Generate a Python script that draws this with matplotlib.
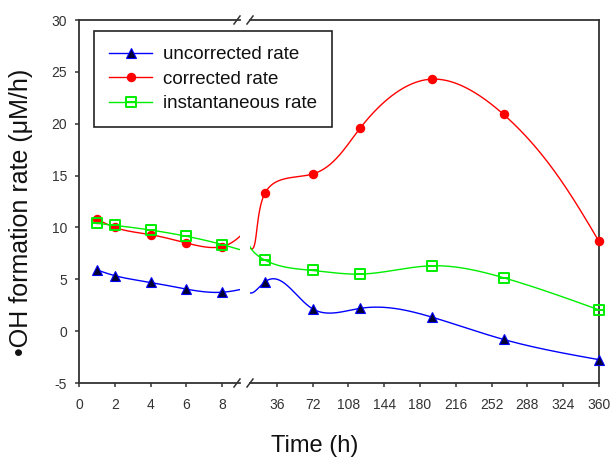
import numpy as np
import matplotlib
matplotlib.use("Agg")
import matplotlib.pyplot as plt
from matplotlib.path import Path
from matplotlib.lines import Line2D

plt.rcParams['font.family'] = ['Liberation Sans', 'DejaVu Sans']
plt.rcParams['axes.unicode_minus'] = False

# data (time in h, rate in uM/h)
time_h = np.array([1, 2, 4, 6, 8, 24, 72, 120, 192, 264, 360], dtype=float)
uncorrected = np.array([5.9, 5.35, 4.7, 4.05, 3.75, 4.75, 2.15, 2.2, 1.35, -0.8, -2.75])
corrected = np.array([10.8, 10.0, 9.3, 8.5, 8.15, 13.3, 15.15, 19.6, 24.3, 20.9, 8.65])
instantaneous = np.array([10.4, 10.2, 9.75, 9.15, 8.35, 6.85, 5.85, 5.5, 6.3, 5.15, 2.05])

left_ticks = [0, 2, 4, 6, 8]
right_ticks = list(range(36, 361, 36))
y_ticks = list(range(-5, 31, 5))

W, H = 614, 461
L0, L1 = 79, 240      # left panel, pixels
R0, R1 = 250, 599     # right panel, pixels
YB, YT = 383, 20      # bottom / top of the plot, pixels
BRK = 9               # hours where the axis is broken
TMAX = 360
YMIN, YMAX = -5, 30
kY = (YB - YT) / (YMAX - YMIN)
kL = (L1 - L0) / BRK
kR = (R1 - R0) / (TMAX - BRK)


def natural_spline(x, y, xs):
    n = len(x)
    h = np.diff(x)
    A = np.zeros((n, n))
    b = np.zeros(n)
    A[0, 0] = 1
    A[-1, -1] = 1
    for i in range(1, n - 1):
        A[i, i - 1] = h[i - 1]
        A[i, i] = 2 * (h[i - 1] + h[i])
        A[i, i + 1] = h[i]
        b[i] = 3 * ((y[i + 1] - y[i]) / h[i] - (y[i] - y[i - 1]) / h[i - 1])
    c = np.linalg.solve(A, b)
    bb = (y[1:] - y[:-1]) / h - h * (2 * c[:-1] + c[1:]) / 3
    d = (c[1:] - c[:-1]) / (3 * h)
    idx = np.clip(np.searchsorted(x, xs) - 1, 0, n - 2)
    dx = xs - x[idx]
    return y[idx] + bb[idx] * dx + c[idx] * dx ** 2 + d[idx] * dx ** 3


def smooth_curve(t, v, k_in, k_out, n=6000):
    # parametric spline through the points, x scaled k_in before the break
    # and k_out after it
    xp = np.where(t <= BRK, t * k_in, BRK * k_in + (t - BRK) * k_out)
    yp = v * kY
    s = np.concatenate([[0], np.cumsum(np.hypot(np.diff(xp), np.diff(yp)))])
    ss = np.linspace(0, s[-1], n)
    xs = natural_spline(s, xp, ss)
    ts = np.where(xs <= BRK * k_in, xs / k_in, BRK + (xs - BRK * k_in) / k_out)
    return ts, natural_spline(s, yp, ss) / kY


# square marker with a bar through the middle
sq_path = Path([(-1, -1), (1, -1), (1, 1), (-1, 1), (-1, -1), (-1, 0), (1, 0)],
               [Path.MOVETO, Path.LINETO, Path.LINETO, Path.LINETO, Path.CLOSEPOLY,
                Path.MOVETO, Path.LINETO])

series = [
    ("uncorrected rate", uncorrected, dict(color='#0000ff', marker='^', ms=6.5,
                                            mfc='#000033', mec='#0000ff', mew=0.8)),
    ("corrected rate", corrected, dict(color='#ff0000', marker='o', ms=5.8,
                                        mfc='#ff0000', mec='#ff0000')),
    ("instantaneous rate", instantaneous, dict(color='#00ee00', marker=sq_path, ms=6.5,
                                                mfc='none', mec='#00ee00', mew=1.4)),
]

fig = plt.figure(figsize=(6.14, 4.61), dpi=100)
bot = 1 - YB / H
hgt = (YB - YT) / H
axL = fig.add_axes([L0 / W, bot, (L1 - L0) / W, hgt])
axR = fig.add_axes([R0 / W, bot, (R1 - R0) / W, hgt])

panels = [(axL, kL, 2.5), (axR, kR, kR)]
handles = []
for name, vals, st in series:
    mk = {k: v for k, v in st.items() if k != 'color'}
    for ax, k_in, k_out in panels:
        tc, vc = smooth_curve(time_h, vals, k_in, k_out)
        ax.plot(tc, vc, color=st['color'], lw=1.0, zorder=2)
    left = time_h <= BRK
    axL.plot(time_h[left], vals[left], ls='none', zorder=3, **mk)
    axR.plot(time_h[~left], vals[~left], ls='none', zorder=3, clip_on=False, **mk)
    handles.append(Line2D([], [], color=st['color'], lw=1.0, **mk))

axL.set_xlim(0, BRK)
axR.set_xlim(BRK, TMAX)
for ax in (axL, axR):
    ax.set_ylim(YMIN, YMAX)
    for s in ax.spines.values():
        s.set_color('#333333')
        s.set_linewidth(1.3)
    ax.tick_params(axis='x', direction='out', length=3, width=1.1, color='#333333',
                   labelsize=10, labelcolor='#333333', pad=7.5)
    ax.tick_params(axis='y', direction='out', length=3, width=1.1, color='#333333',
                   labelsize=10, labelcolor='#333333', pad=5.5)

axL.spines['right'].set_visible(False)
axR.spines['left'].set_visible(False)
axL.set_xticks(left_ticks)
axR.set_xticks(right_ticks)
axL.set_yticks(y_ticks)
axR.set_yticks([])

# break marks
for xpix in (237, 250):
    for ypix in (YT, YB):
        fig.add_artist(Line2D([(xpix - 3) / W, (xpix + 3) / W],
                              [1 - (ypix + 4) / H, 1 - (ypix - 4) / H],
                              color='#333333', lw=1.1))

fig.text(21 / W, 1 - 212 / H, "\u2022OH formation rate (\u03bcM/h)", rotation=90,
         ha='center', va='center', fontsize=18, color='#111111')
fig.text(315 / W, 1 - 446 / H, "Time (h)", ha='center', va='center', fontsize=17,
         color='#111111')

leg = fig.legend(handles, [s[0] for s in series], loc='upper left',
                 bbox_to_anchor=(94 / W, 1 - 31 / H), fontsize=13.5, numpoints=1,
                 handlelength=2.3, handletextpad=0.6, labelspacing=0.4,
                 borderpad=0.8, borderaxespad=0, fancybox=False, framealpha=1)
leg.get_frame().set_edgecolor('#222222')
leg.get_frame().set_linewidth(1.2)
for t in leg.get_texts():
    t.set_color('#111111')

fig.savefig("out.png", dpi=100, facecolor='white')
